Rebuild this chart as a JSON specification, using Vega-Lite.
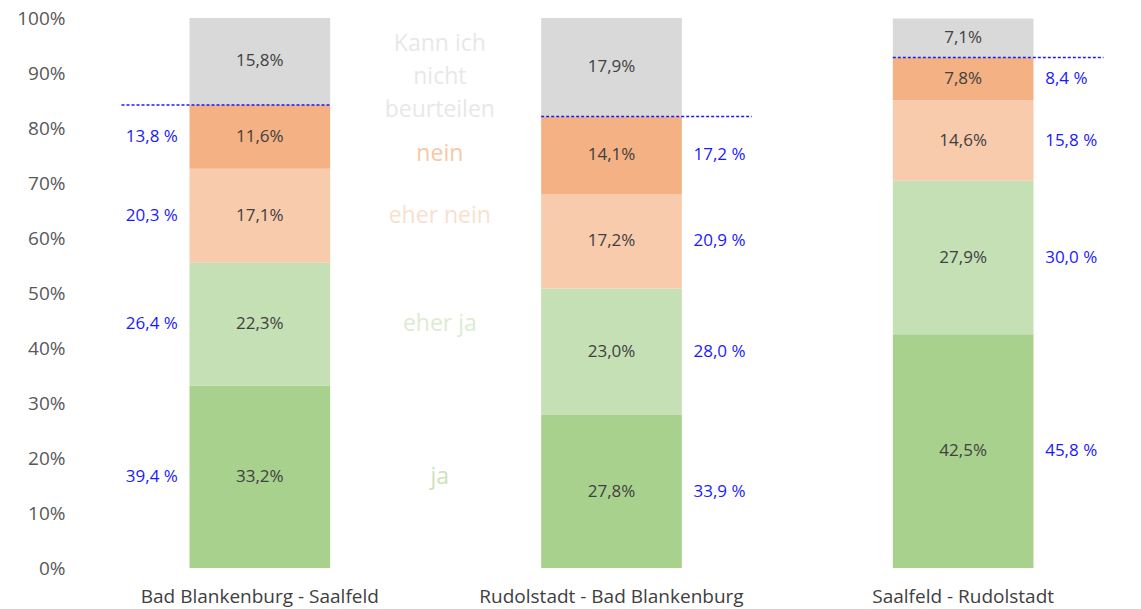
{
  "$schema": "https://vega.github.io/schema/vega-lite/v6.json",
  "width": 1055,
  "height": 550,
  "autosize": {"type": "none"},
  "padding": {"left": 84, "top": 18, "right": 2, "bottom": 41},
  "config": {"view": {"stroke": null}, "font": "Open Sans", "text": {"font": "Open Sans"}},
  "data": {
    "values": [
      {"ort": "Bad Blankenburg - Saalfeld", "antwort": "ja", "anteil": 33.2, "ohne": 39.4},
      {"ort": "Bad Blankenburg - Saalfeld", "antwort": "eher ja", "anteil": 22.3, "ohne": 26.4},
      {"ort": "Bad Blankenburg - Saalfeld", "antwort": "eher nein", "anteil": 17.1, "ohne": 20.3},
      {"ort": "Bad Blankenburg - Saalfeld", "antwort": "nein", "anteil": 11.6, "ohne": 13.8},
      {"ort": "Bad Blankenburg - Saalfeld", "antwort": "Kann ich nicht beurteilen", "anteil": 15.8, "ohne": null},
      {"ort": "Rudolstadt - Bad Blankenburg", "antwort": "ja", "anteil": 27.8, "ohne": 33.9},
      {"ort": "Rudolstadt - Bad Blankenburg", "antwort": "eher ja", "anteil": 23.0, "ohne": 28.0},
      {"ort": "Rudolstadt - Bad Blankenburg", "antwort": "eher nein", "anteil": 17.2, "ohne": 20.9},
      {"ort": "Rudolstadt - Bad Blankenburg", "antwort": "nein", "anteil": 14.1, "ohne": 17.2},
      {"ort": "Rudolstadt - Bad Blankenburg", "antwort": "Kann ich nicht beurteilen", "anteil": 17.9, "ohne": null},
      {"ort": "Saalfeld - Rudolstadt", "antwort": "ja", "anteil": 42.5, "ohne": 45.8},
      {"ort": "Saalfeld - Rudolstadt", "antwort": "eher ja", "anteil": 27.9, "ohne": 30.0},
      {"ort": "Saalfeld - Rudolstadt", "antwort": "eher nein", "anteil": 14.6, "ohne": 15.8},
      {"ort": "Saalfeld - Rudolstadt", "antwort": "nein", "anteil": 7.8, "ohne": 8.4},
      {"ort": "Saalfeld - Rudolstadt", "antwort": "Kann ich nicht beurteilen", "anteil": 7.1, "ohne": null}
    ]
  },
  "transform": [
    {"calculate": "indexof(['ja','eher ja','eher nein','nein','Kann ich nicht beurteilen'], datum.antwort)", "as": "ord"},
    {"stack": "anteil", "groupby": ["ort"], "sort": [{"field": "ord", "order": "ascending"}], "as": ["y0", "y1"]},
    {"calculate": "(datum.y0 + datum.y1) / 2", "as": "ymid"},
    {"calculate": "replace(format(datum.anteil, '.1f'), '.', ',') + '%'", "as": "lab"},
    {"calculate": "datum.ohne == null ? '' : replace(format(datum.ohne, '.1f'), '.', ',') + ' %'", "as": "lab2"},
    {"calculate": "datum.antwort == 'Kann ich nicht beurteilen' ? ['Kann ich', 'nicht', 'beurteilen'] : datum.antwort", "as": "leg"}
  ],
  "encoding": {
    "x": {
      "field": "ort",
      "type": "nominal",
      "sort": ["Bad Blankenburg - Saalfeld", "Rudolstadt - Bad Blankenburg", "Saalfeld - Rudolstadt"],
      "scale": {"paddingInner": 0.6, "paddingOuter": 0.3},
      "axis": {"title": null, "labelAngle": 0, "ticks": false, "domain": false, "labelFontSize": 19, "labelColor": "#404040", "labelPadding": 19, "labelFont": "Open Sans", "labelLimit": 0}
    }
  },
  "layer": [
    {
      "mark": {"type": "bar"},
      "encoding": {
        "y": {
          "field": "y0", "type": "quantitative",
          "scale": {"domain": [0, 100], "nice": false},
          "axis": {"title": null, "values": [0,10,20,30,40,50,60,70,80,90,100], "labelExpr": "datum.value + '%'", "grid": false, "domain": false, "ticks": false, "labelFontSize": 19, "labelColor": "#595959", "labelPadding": 19, "labelFont": "Open Sans"}
        },
        "y2": {"field": "y1"},
        "color": {
          "field": "antwort", "type": "nominal",
          "scale": {"domain": ["ja", "eher ja", "eher nein", "nein", "Kann ich nicht beurteilen"], "range": ["#a9d18e", "#c5e0b4", "#f8cbad", "#f4b183", "#d9d9d9"]},
          "legend": null
        }
      }
    },
    {
      "mark": {"type": "text", "fontSize": 17, "color": "#404040"},
      "encoding": {
        "y": {"field": "ymid", "type": "quantitative", "axis": {"title": null}},
        "text": {"field": "lab"}
      }
    },
    {
      "transform": [{"filter": "datum.antwort == 'nein' && datum.ort == 'Bad Blankenburg - Saalfeld'"}],
      "mark": {"type": "rule", "color": "#1a1aff", "strokeDash": [3, 2], "strokeWidth": 1.5, "xOffset": -68},
      "encoding": {
        "y": {"field": "y1", "type": "quantitative", "axis": {"title": null}},
        "x": {"field": "ort", "type": "nominal", "bandPosition": 0},
        "x2": {"field": "ort", "bandPosition": 1}
      }
    },
    {
      "transform": [{"filter": "datum.antwort == 'nein' && datum.ort != 'Bad Blankenburg - Saalfeld'"}],
      "mark": {"type": "rule", "color": "#1a1aff", "strokeDash": [3, 2], "strokeWidth": 1.5, "x2Offset": 70},
      "encoding": {
        "y": {"field": "y1", "type": "quantitative", "axis": {"title": null}},
        "x": {"field": "ort", "type": "nominal", "bandPosition": 0},
        "x2": {"field": "ort", "bandPosition": 1}
      }
    },
    {
      "transform": [{"filter": "datum.ohne != null && datum.ort == 'Bad Blankenburg - Saalfeld'"}],
      "mark": {"type": "text", "fontSize": 17, "color": "#1a1aff", "align": "right", "dx": -82},
      "encoding": {
        "y": {"field": "ymid", "type": "quantitative", "axis": {"title": null}},
        "text": {"field": "lab2"}
      }
    },
    {
      "transform": [{"filter": "datum.ohne != null && datum.ort != 'Bad Blankenburg - Saalfeld'"}],
      "mark": {"type": "text", "fontSize": 17, "color": "#1a1aff", "align": "left", "dx": 82},
      "encoding": {
        "y": {"field": "ymid", "type": "quantitative", "axis": {"title": null}},
        "text": {"field": "lab2"}
      }
    },
    {
      "transform": [{"filter": "datum.ort == 'Bad Blankenburg - Saalfeld' && (datum.antwort == 'ja' || datum.antwort == 'eher ja' || datum.antwort == 'eher nein')"}],
      "mark": {"type": "text", "fontSize": 23, "dx": 180, "opacity": 0.6},
      "encoding": {
        "y": {"field": "ymid", "type": "quantitative", "axis": {"title": null}},
        "text": {"field": "leg"},
        "color": {"field": "antwort", "type": "nominal", "legend": null}
      }
    },
    {
      "transform": [{"filter": "datum.ort == 'Bad Blankenburg - Saalfeld' && datum.antwort == 'nein'"}],
      "mark": {"type": "text", "fontSize": 23, "dx": 180, "dy": 17, "opacity": 0.7},
      "encoding": {
        "y": {"field": "ymid", "type": "quantitative", "axis": {"title": null}},
        "text": {"field": "leg"},
        "color": {"field": "antwort", "type": "nominal", "legend": null}
      }
    },
    {
      "transform": [{"filter": "datum.ort == 'Bad Blankenburg - Saalfeld' && datum.antwort == 'Kann ich nicht beurteilen'"}],
      "mark": {"type": "text", "fontSize": 23, "dx": 180, "dy": -17, "opacity": 0.6, "lineHeight": 33},
      "encoding": {
        "y": {"field": "ymid", "type": "quantitative", "axis": {"title": null}},
        "text": {"field": "leg"},
        "color": {"field": "antwort", "type": "nominal", "legend": null}
      }
    }
  ]
}
